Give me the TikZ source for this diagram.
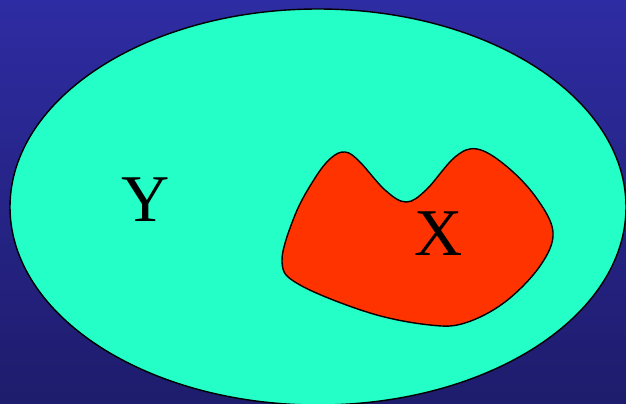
\documentclass[tikz,border=0pt]{standalone}
\usepackage{fontspec}
\setmainfont{Liberation Serif}
\usepackage{tikz}
\definecolor{bgtop}{RGB}{46,44,162}
\definecolor{bgbottom}{RGB}{30,28,108}
\definecolor{setY}{RGB}{36,255,200}
\definecolor{setX}{RGB}{255,51,0}

\begin{document}
\begin{tikzpicture}[x=0.02cm, y=-0.02cm,
    setlabel/.style={font=\fontsize{38}{40}\selectfont, text=black, inner sep=0pt},
    setline/.style={draw=black, line width=0.8pt}]
        % background
        \shade[top color=bgtop, bottom color=bgbottom] (0,0) rectangle (626,403);
        \useasboundingbox (0,0) rectangle (626,403);
        % set Y
        \begin{scope}
            \clip (0,0) rectangle (626,403);
            \draw[setline, fill=setY] (318,207) ellipse [x radius=308, y radius=198];
        \end{scope}
        % set X
        \draw[setline, fill=setX] plot[smooth cycle, tension=0.6] coordinates {
            (282,262) (295,215) (315,178) (331,158) (345,152) (359,161) (385,190)
            (406,202) (426,190) (455,157) (477,149) (505,165) (535,196) (553,232)
            (540,266) (505,302) (465,323) (430,325) (370,313) (300,285)};
        \node[setlabel] (labelY) at (146,200) {Y};
        \node[setlabel] (labelX) at (439,234) {X};
    \end{tikzpicture}
\end{document}
